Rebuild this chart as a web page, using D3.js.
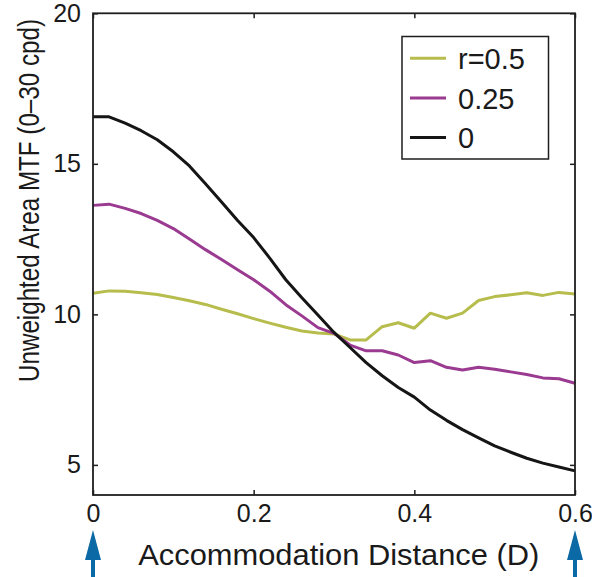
<!DOCTYPE html>
<html>
<head>
<meta charset="utf-8">
<script src="https://cdn.jsdelivr.net/npm/d3@7"></script>
<style>
  html, body { margin: 0; padding: 0; background: #ffffff; }
  svg { display: block; }
  text { font-family: "Liberation Sans", Arial, Helvetica, sans-serif; fill: #1a1a1a; }
</style>
</head>
<body>
<svg id="chart" width="592" height="577"></svg>
<script>
// ---- data ----
const distances = [0, 0.02, 0.04, 0.06, 0.08, 0.10, 0.12, 0.14, 0.16, 0.18, 0.20,
  0.22, 0.24, 0.26, 0.28, 0.30, 0.32, 0.34, 0.36, 0.38, 0.40,
  0.42, 0.44, 0.46, 0.48, 0.50, 0.52, 0.54, 0.56, 0.58, 0.60];

const mtfR050 = [10.70, 10.78, 10.77, 10.72, 10.66, 10.56, 10.45, 10.33, 10.17, 10.02, 9.86,
  9.71, 9.57, 9.45, 9.38, 9.35, 9.15, 9.15, 9.59, 9.72, 9.54,
  10.04, 9.87, 10.04, 10.46, 10.59, 10.65, 10.72, 10.63, 10.73, 10.68];

const mtfR025 = [13.62, 13.66, 13.52, 13.35, 13.12, 12.85, 12.50, 12.15, 11.82, 11.48, 11.15,
  10.77, 10.32, 9.95, 9.56, 9.37, 8.98, 8.79, 8.79, 8.65, 8.40,
  8.46, 8.24, 8.15, 8.24, 8.18, 8.09, 8.00, 7.89, 7.86, 7.71];

const mtfR000 = [16.56, 16.56, 16.35, 16.10, 15.80, 15.40, 14.93, 14.34, 13.73, 13.12, 12.55,
  11.87, 11.15, 10.55, 9.98, 9.40, 8.90, 8.40, 7.96, 7.57, 7.25,
  6.82, 6.48, 6.17, 5.90, 5.63, 5.42, 5.22, 5.06, 4.93, 4.80];

const seriesNames = ["r=0.5", "0.25", "0"];
const seriesColors = ["#b6bd4c", "#9a3a90", "#151515"];
const xTicks = [0, 0.2, 0.4, 0.6];
const xTickLabels = ["0", "0.2", "0.4", "0.6"];
const yTicks = [5, 10, 15, 20];
const yTickLabels = ["5", "10", "15", "20"];
const arrowPositions = [0, 0.6];

// ---- layout ----
const svg = d3.select("#chart");
const plotLeft = 93, plotRight = 575, plotTop = 13.3, plotBottom = 495;

const x = d3.scaleLinear().domain([0, 0.6]).range([plotLeft, plotRight]);
const y = d3.scaleLinear().domain([4, 20]).range([plotBottom, plotTop]);

const seriesValues = [mtfR050, mtfR025, mtfR000];

// plot lines
const line = d3.line()
  .x((d, i) => x(distances[i]))
  .y(d => y(d));

const g = svg.append("g");
seriesValues.forEach((vals, k) => {
  g.append("path")
    .datum(vals)
    .attr("d", line)
    .attr("fill", "none")
    .attr("stroke", seriesColors[k])
    .attr("stroke-width", 3)
    .attr("stroke-linejoin", "round");
});

// frame with inward ticks (mirrored)
const frameColor = "#1e1e1e";
const xAxisB = d3.axisBottom(x).tickValues(xTicks).tickSize(-5).tickFormat((d, i) => xTickLabels[i]).tickPadding(10);
const xAxisT = d3.axisTop(x).tickValues(xTicks).tickSize(-5).tickFormat("");
const yAxisL = d3.axisLeft(y).tickValues(yTicks).tickSize(-5).tickFormat((d, i) => yTickLabels[i]).tickPadding(12);
const yAxisR = d3.axisRight(y).tickValues(yTicks).tickSize(-5).tickFormat("");

function styleAxis(sel, fontSize) {
  sel.select(".domain").remove();
  sel.selectAll(".tick line").attr("stroke", frameColor).attr("stroke-width", 1.5);
  sel.selectAll(".tick text").attr("font-size", fontSize).attr("fill", "#1a1a1a")
    .style("font-family", "'Liberation Sans', Arial, Helvetica, sans-serif");
}

svg.append("g").attr("transform", `translate(0,${plotBottom})`).call(xAxisB).call(s => styleAxis(s, 25))
  .selectAll(".tick text").attr("dy", "0.71em").attr("y", 9);
svg.append("g").attr("transform", `translate(0,${plotTop})`).call(xAxisT).call(s => styleAxis(s, 25));
svg.append("g").attr("transform", `translate(${plotLeft},0)`).call(yAxisL).call(s => styleAxis(s, 25));
svg.append("g").attr("transform", `translate(${plotRight},0)`).call(yAxisR).call(s => styleAxis(s, 25));

svg.append("rect")
  .attr("x", plotLeft).attr("y", plotTop)
  .attr("width", plotRight - plotLeft).attr("height", plotBottom - plotTop)
  .attr("fill", "none").attr("stroke", frameColor).attr("stroke-width", 1.8);

// axis labels
svg.append("text")
  .attr("x", 338.8)
  .attr("y", 565)
  .attr("text-anchor", "middle")
  .attr("font-size", 30)
  .attr("textLength", 401)
  .attr("lengthAdjust", "spacingAndGlyphs")
  .text("Accommodation Distance (D)");

svg.append("text")
  .attr("transform", "translate(39,200.5) rotate(-90)")
  .attr("text-anchor", "middle")
  .attr("font-size", 29)
  .attr("textLength", 363)
  .attr("lengthAdjust", "spacingAndGlyphs")
  .text("Unweighted Area MTF (0\u201330 cpd)");

// legend
const legend = svg.append("g");
legend.append("rect")
  .attr("x", 402).attr("y", 36.5)
  .attr("width", 146.5).attr("height", 122.5)
  .attr("fill", "#ffffff").attr("stroke", frameColor).attr("stroke-width", 1.5);
const legendRowY = [58.3, 98, 137.5];
seriesNames.forEach((name, k) => {
  legend.append("line")
    .attr("x1", 410).attr("x2", 446)
    .attr("y1", legendRowY[k]).attr("y2", legendRowY[k])
    .attr("stroke", seriesColors[k]).attr("stroke-width", 3);
  legend.append("text")
    .attr("x", 458).attr("y", legendRowY[k] + 10.5)
    .attr("font-size", 29)
    .text(name);
});

// blue arrows below the axis
const arrowColor = "#0b6aa6";
arrowPositions.forEach(p => {
  const cx = x(p);
  svg.append("line")
    .attr("x1", cx).attr("x2", cx)
    .attr("y1", 555).attr("y2", 577)
    .attr("stroke", arrowColor).attr("stroke-width", 4);
  svg.append("path")
    .attr("d", `M${cx},530 L${cx + 8},560 L${cx - 8},560 Z`)
    .attr("fill", arrowColor);
});
</script>
</body>
</html>
